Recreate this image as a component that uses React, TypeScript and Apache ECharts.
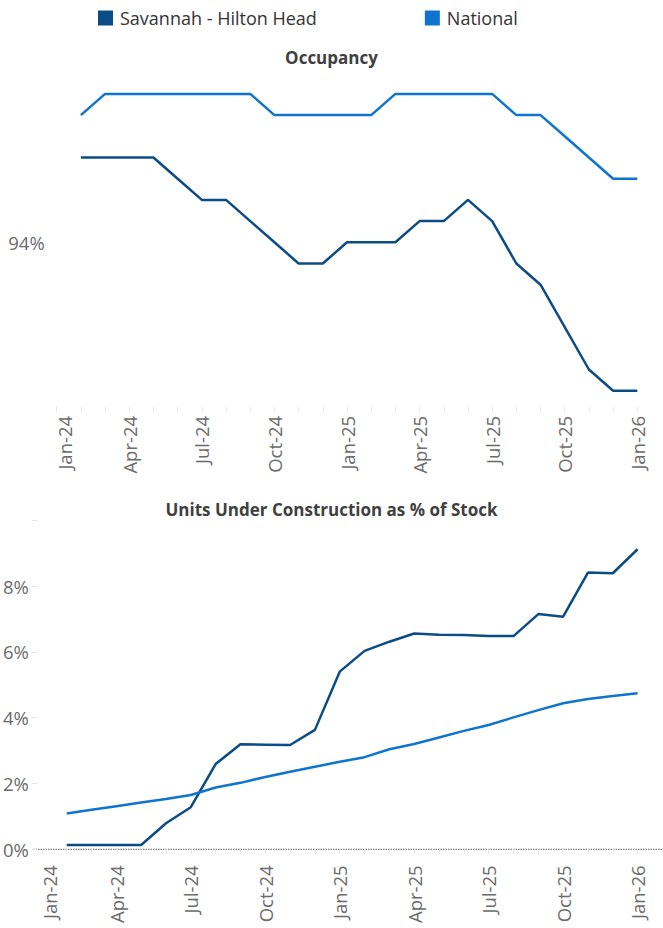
import React, { useEffect, useRef } from 'react';
import * as echarts from 'echarts';

const months = [
  'Jan-24', 'Feb-24', 'Mar-24', 'Apr-24', 'May-24', 'Jun-24', 'Jul-24', 'Aug-24', 'Sep-24', 'Oct-24', 'Nov-24', 'Dec-24',
  'Jan-25', 'Feb-25', 'Mar-25', 'Apr-25', 'May-25', 'Jun-25', 'Jul-25', 'Aug-25', 'Sep-25', 'Oct-25', 'Nov-25', 'Dec-25',
  'Jan-26',
];

const seriesNames = ['Savannah - Hilton Head', 'National'];

// Occupancy (%)
const occSavannah = [null, 94.4, 94.4, 94.4, 94.4, 94.3, 94.2, 94.2, 94.1, 94.0, 93.9, 93.9, 94.0, 94.0, 94.0, 94.1, 94.1, 94.2, 94.1, 93.9, 93.8, 93.6, 93.4, 93.3, 93.3];
const occNational = [null, 94.6, 94.7, 94.7, 94.7, 94.7, 94.7, 94.7, 94.7, 94.6, 94.6, 94.6, 94.6, 94.6, 94.7, 94.7, 94.7, 94.7, 94.7, 94.6, 94.6, 94.5, 94.4, 94.3, 94.3];

// Units under construction as % of stock
const ucSavannah = [null, 0.13, 0.13, 0.13, 0.13, 0.79, 1.28, 2.59, 3.19, 3.18, 3.17, 3.63, 5.40, 6.03, 6.31, 6.56, 6.52, 6.51, 6.48, 6.48, 7.15, 7.07, 8.41, 8.39, 9.12];
const ucNational = [null, 1.09, 1.20, 1.31, 1.42, 1.53, 1.65, 1.88, 2.02, 2.20, 2.36, 2.51, 2.66, 2.80, 3.04, 3.20, 3.40, 3.60, 3.78, 4.01, 4.23, 4.44, 4.57, 4.66, 4.74];

const titles = ['Occupancy', 'Units Under Construction as % of Stock'];

const COLOR_SAV = '#0B4C86';
const COLOR_NAT = '#0E74CF';
const FONT = '"Open Sans", "DejaVu Sans", sans-serif';
const LABEL_COLOR = '#6B6B6B';
const TICK_COLOR = '#E6E6E6';
const AXIS_FS = 18.5;

export default function App() {
  const ref = useRef<HTMLDivElement>(null);

  useEffect(() => {
    if (!ref.current) return;
    const chart = echarts.init(ref.current, undefined, { renderer: 'svg' });

    const xLabel = (margin: number) => ({
      interval: 2,
      rotate: 90,
      margin,
      color: LABEL_COLOR,
      fontSize: AXIS_FS,
      fontFamily: FONT,
      formatter: (val: string, idx: number) => (idx === 0 ? `{f|${val}}` : val),
      rich: {
        f: { padding: [16, 0, 0, 0], color: LABEL_COLOR, fontSize: AXIS_FS, fontFamily: FONT },
      },
    });

    const option: any = {
      animation: false,
      textStyle: { fontFamily: FONT },
      legend: {
        data: seriesNames,
        left: 98,
        top: 9,
        padding: 0,
        icon: 'rect',
        itemWidth: 15,
        itemHeight: 15,
        itemGap: 108,
        textStyle: { fontSize: 18, color: '#333333', fontFamily: FONT, padding: [0, 0, 0, 2] },
      },
      title: [
        {
          text: titles[0],
          left: 'center',
          top: 44,
          textStyle: { fontSize: 17, fontWeight: 'bold', color: '#404040', fontFamily: FONT },
        },
        {
          text: titles[1],
          left: 'center',
          top: 496,
          textStyle: { fontSize: 17, fontWeight: 'bold', color: '#404040', fontFamily: FONT },
        },
      ],
      grid: [
        { left: 56.7, right: 25.7, top: 72.7, height: 339.2 },
        { left: 40, right: 25.4, top: 520.3, height: 329 },
      ],
      xAxis: [
        {
          type: 'category',
          gridIndex: 0,
          data: months,
          boundaryGap: false,
          axisLine: { show: false },
          axisTick: { show: true, interval: 0, inside: true, length: 5, lineStyle: { color: TICK_COLOR } },
          axisLabel: xLabel(4),
        },
        {
          type: 'category',
          gridIndex: 1,
          data: months,
          boundaryGap: false,
          offset: 11,
          axisLine: { show: false },
          axisTick: { show: true, interval: 0, length: 5, lineStyle: { color: TICK_COLOR } },
          axisLabel: xLabel(5),
        },
      ],
      yAxis: [
        {
          type: 'value',
          gridIndex: 0,
          min: 93.2,
          max: 94.8,
          interval: 0.2,
          offset: 5,
          splitLine: { show: false },
          axisLine: { show: false },
          axisTick: { show: false },
          axisLabel: {
            margin: 7,
            color: LABEL_COLOR,
            fontSize: AXIS_FS,
            fontFamily: FONT,
            formatter: (v: number) => (Math.abs(v - 94) < 1e-6 ? '94%' : ''),
          },
        },
        {
          type: 'value',
          gridIndex: 1,
          min: 0,
          max: 10,
          interval: 2,
          offset: 5,
          splitLine: { show: false },
          axisLine: { show: false },
          axisTick: { show: true, length: 5, lineStyle: { color: TICK_COLOR } },
          axisLabel: {
            margin: 8,
            color: LABEL_COLOR,
            fontSize: AXIS_FS,
            fontFamily: FONT,
            formatter: (v: number) => (v >= 10 ? '' : `${v}%`),
          },
        },
      ],
      series: [
        {
          name: seriesNames[0], type: 'line', xAxisIndex: 0, yAxisIndex: 0, data: occSavannah,
          showSymbol: false, symbol: 'none', lineStyle: { color: COLOR_SAV, width: 2.5 }, itemStyle: { color: COLOR_SAV },
        },
        {
          name: seriesNames[1], type: 'line', xAxisIndex: 0, yAxisIndex: 0, data: occNational,
          showSymbol: false, symbol: 'none', lineStyle: { color: COLOR_NAT, width: 2.5 }, itemStyle: { color: COLOR_NAT },
        },
        {
          name: seriesNames[0], type: 'line', xAxisIndex: 1, yAxisIndex: 1, data: ucSavannah,
          showSymbol: false, symbol: 'none', lineStyle: { color: COLOR_SAV, width: 2.5 }, itemStyle: { color: COLOR_SAV },
        },
        {
          name: seriesNames[1], type: 'line', xAxisIndex: 1, yAxisIndex: 1, data: ucNational,
          showSymbol: false, symbol: 'none', lineStyle: { color: COLOR_NAT, width: 2.5 }, itemStyle: { color: COLOR_NAT },
        },
      ],
    };

    chart.setOption(option);

    const y0 = chart.convertToPixel({ yAxisIndex: 1 }, 0) as number;
    chart.setOption({
      graphic: [
        {
          type: 'line',
          z: 0,
          shape: { x1: 33, y1: y0, x2: 663, y2: y0 },
          style: { stroke: '#606060', lineWidth: 1, lineDash: [1.5, 1] },
        },
      ],
    });

    return () => chart.dispose();
  }, []);

  return (
    <div
      ref={ref}
      style={{ position: 'fixed', left: 0, top: 0, width: 663, height: 928, background: '#ffffff' }}
    />
  );
}
